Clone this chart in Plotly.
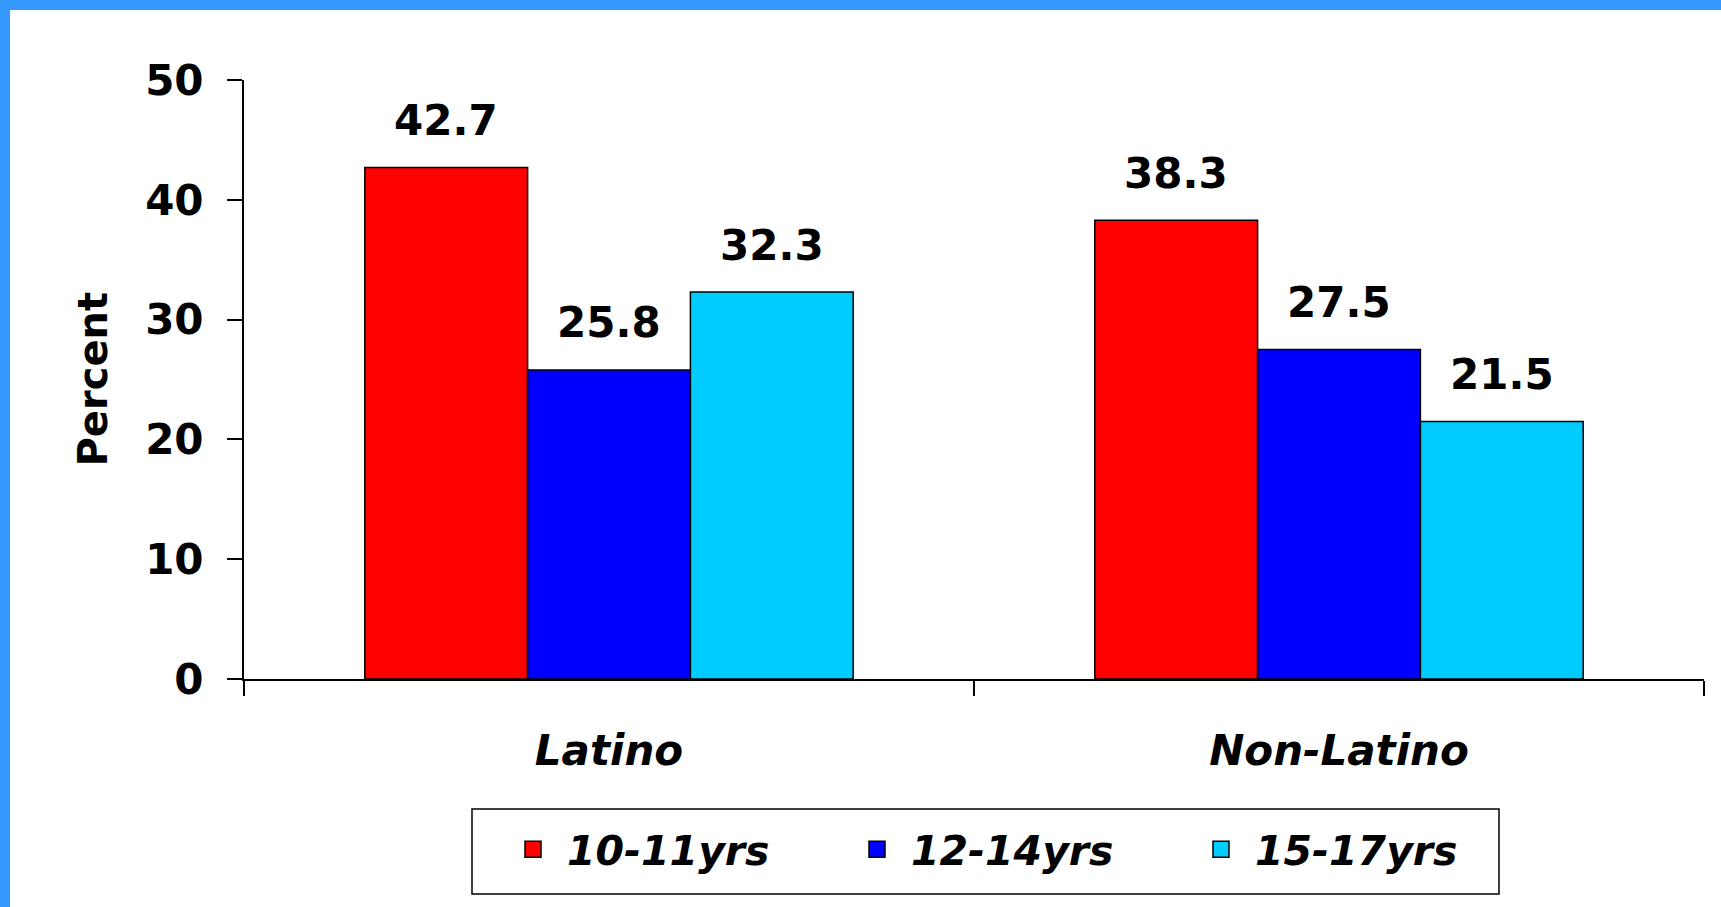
import plotly.graph_objects as go

categories = ["Latino", "Non-Latino"]
series_names = ["10-11yrs", "12-14yrs", "15-17yrs"]
values_10_11 = [42.7, 38.3]
values_12_14 = [25.8, 27.5]
values_15_17 = [32.3, 21.5]
colors = ["#FF0000", "#0000FF", "#00CCFF"]
y_ticks = [0, 10, 20, 30, 40, 50]

W, H = 1721, 907
ML, MR, MT, MB = 244, 17, 80, 228
BARGAP = 0.331

FONT = "DejaVu Sans"
series = [values_10_11, values_12_14, values_15_17]

pw = W - ML - MR
ph = H - MT - MB


def px_x(p):
    return (p - ML) / pw


def px_y(p):
    return (H - MB - p) / ph


fig = go.Figure()
for name, vals, col in zip(series_names, series, colors):
    fig.add_trace(go.Bar(
        x=categories, y=vals, name=name, showlegend=False,
        marker=dict(color=col, line=dict(color="black", width=1.5)),
    ))
# legend entries (larger square swatches)
for name, col in zip(series_names, colors):
    fig.add_trace(go.Scatter(
        x=[None], y=[None], mode="markers", name=name,
        marker=dict(symbol="square", size=16, color=col, line=dict(color="black", width=1.5)),
    ))

# value labels above bars
bw = (1 - BARGAP) / len(series)
annos = []
for j, vals in enumerate(series):
    for i, v in enumerate(vals):
        annos.append(dict(
            x=i + (j - (len(series) - 1) / 2) * bw, y=v, xref="x", yref="y",
            text=f"{v:.1f}", showarrow=False, yanchor="middle", yshift=47,
            font=dict(family=FONT, size=42, color="black", weight="bold"),
        ))

# y-axis title
annos.append(dict(
    x=0, y=0.5, xref="paper", yref="paper", text="Percent", showarrow=False,
    textangle=-90, xanchor="center", yanchor="middle", xshift=92 - ML,
    font=dict(family=FONT, size=40, color="black", weight="bold"),
))

shapes = [
    # blue frame strips (top and left)
    dict(type="rect", xref="paper", yref="paper", x0=px_x(0), x1=px_x(10),
         y0=px_y(H), y1=px_y(0), fillcolor="#3399FF", line=dict(width=0), layer="below"),
    dict(type="rect", xref="paper", yref="paper", x0=px_x(0), x1=px_x(W),
         y0=px_y(10), y1=px_y(0), fillcolor="#3399FF", line=dict(width=0), layer="below"),
    # legend box
    dict(type="rect", xref="paper", yref="paper", x0=px_x(472), x1=px_x(1499),
         y0=px_y(894), y1=px_y(809), fillcolor="white",
         line=dict(color="black", width=1.5), layer="below"),
]

fig.update_layout(
    width=W, height=H,
    margin=dict(l=ML, r=MR, t=MT, b=MB, autoexpand=False),
    paper_bgcolor="white", plot_bgcolor="white",
    barmode="group", bargap=BARGAP, bargroupgap=0,
    annotations=annos, shapes=shapes,
    showlegend=True,
    legend=dict(
        orientation="h", x=px_x(499), y=px_y(849.5), xanchor="left", yanchor="middle",
        borderwidth=0, bgcolor="rgba(0,0,0,0)",
        font=dict(family=FONT, size=41, color="black", weight="bold", style="italic"),
        itemwidth=58, entrywidth=271, entrywidthmode="pixels",
        traceorder="normal",
    ),
    xaxis=dict(
        type="category", range=[-0.5, 1.5],
        tickson="boundaries", ticks="outside", ticklen=15, tickwidth=2, tickcolor="black",
        showline=True, linecolor="black", linewidth=2, showgrid=False, zeroline=False,
        tickfont=dict(family=FONT, size=42, color="black", weight="bold", style="italic"),
        ticklabelstandoff=34,
    ),
    yaxis=dict(
        range=[0, 50], tickmode="array", tickvals=y_ticks,
        ticks="outside", ticklen=15, tickwidth=2, tickcolor="black",
        showline=True, linecolor="black", linewidth=2, showgrid=False, zeroline=False,
        tickfont=dict(family=FONT, size=42, color="black", weight="bold"),
        ticklabelstandoff=15,
    ),
)

fig.write_html("out.html")
